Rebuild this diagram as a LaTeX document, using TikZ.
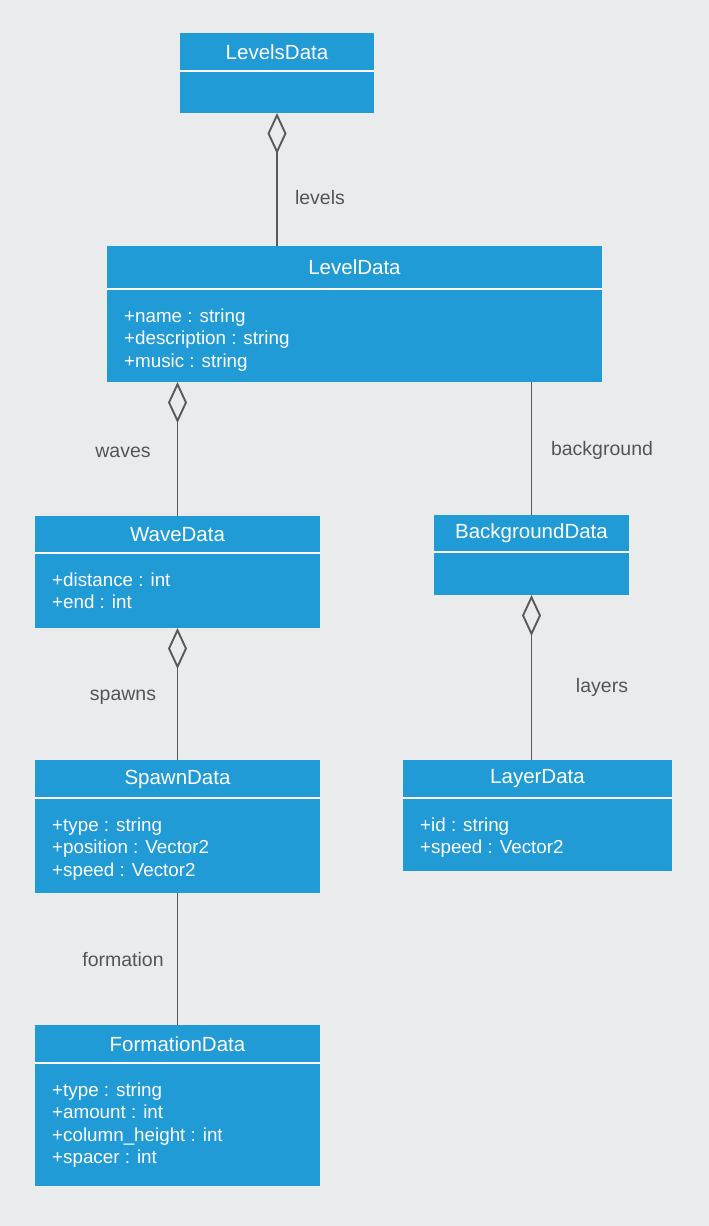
\documentclass[tikz,border=0pt]{standalone}
\usepackage{fontspec}
\setmainfont{Liberation Sans}
\usetikzlibrary{arrows.meta}
\definecolor{bgc}{HTML}{E9EBED}
\definecolor{clsc}{HTML}{219BD5}
\definecolor{lnc}{HTML}{5A5A5A}
\definecolor{lblc}{HTML}{555555}
\tikzset{
  clsbox/.style={draw=none, fill=clsc, inner sep=0pt, outer sep=0pt},
  clstitle/.style={text=white, inner sep=0pt, font=\fontsize{20.5}{24}\selectfont},
  clsattrs/.style={text=white, inner sep=0pt, align=left, font=\fontsize{18.8}{22.5}\selectfont},
  conn/.style={draw=lnc, line width=1.8pt},
  agg/.style={{Diamond[open, length=41pt, width=19pt, line width=1.9pt]}-},
  lbl/.style={text=lblc, inner sep=0pt, font=\fontsize{19.5}{22}\selectfont}
}
\newcommand\umlclass[8]{%
  \node[clsbox, minimum width={#4-#2}, minimum height={#5-#3}, anchor=north west] (#1) at (#2,#3) {};
  \draw[white, line width=1.2pt] (#2,#6) -- (#4,#6);
  \node[clstitle] (#1-t) at ({(#2+#4)/2},{(#3+#6)/2}) {#7};
  \node[clsattrs, anchor=north west] (#1-a) at (#2+17,#6+19.5) {#8};
}
\begin{document}
\begin{tikzpicture}[x=1pt,y=-1pt]
\fill[bgc] (0,0) rectangle (709,1226);
\useasboundingbox (0,0) rectangle (709,1226);

\umlclass{levels}{180}{33}{374}{113}{71}{LevelsData}{}
\umlclass{level}{107}{246}{602}{382}{289}{LevelData}{+name : string\\+description : string\\+music : string}
\umlclass{wave}{35}{516}{320}{628}{553}{WaveData}{+distance : int\\+end : int}
\umlclass{bgd}{434}{515}{629}{595}{552}{BackgroundData}{}
\umlclass{spawn}{35}{760}{320}{893}{798}{SpawnData}{+type : string\\+position : Vector2\\+speed : Vector2}
\umlclass{layer}{403}{760}{672}{871}{798}{LayerData}{+id : string\\+speed : Vector2}
\umlclass{form}{35}{1025}{320}{1186}{1063}{FormationData}{+type : string\\+amount : int\\+column\_height : int\\+spacer : int}

\draw[conn, agg] (levels.south) -- (levels.south |- level.north);
\draw[conn, agg] (wave.north |- level.south) -- (wave.north);
\draw[conn] (bgd.north |- level.south) -- (bgd.north);
\draw[conn, agg] (wave.south) -- (wave.south |- spawn.north);
\draw[conn, agg] (bgd.south) -- (bgd.south |- layer.north);
\draw[conn] (spawn.south) -- (form.north);

\node[lbl] (l-levels) at (320,198) {levels};
\node[lbl] (l-waves) at (123,452) {waves};
\node[lbl] (l-bg) at (602,450) {background};
\node[lbl] (l-spawns) at (123,697) {spawns};
\node[lbl] (l-layers) at (602,687) {layers};
\node[lbl] (l-form) at (123,960) {formation};
\end{tikzpicture}
\end{document}
